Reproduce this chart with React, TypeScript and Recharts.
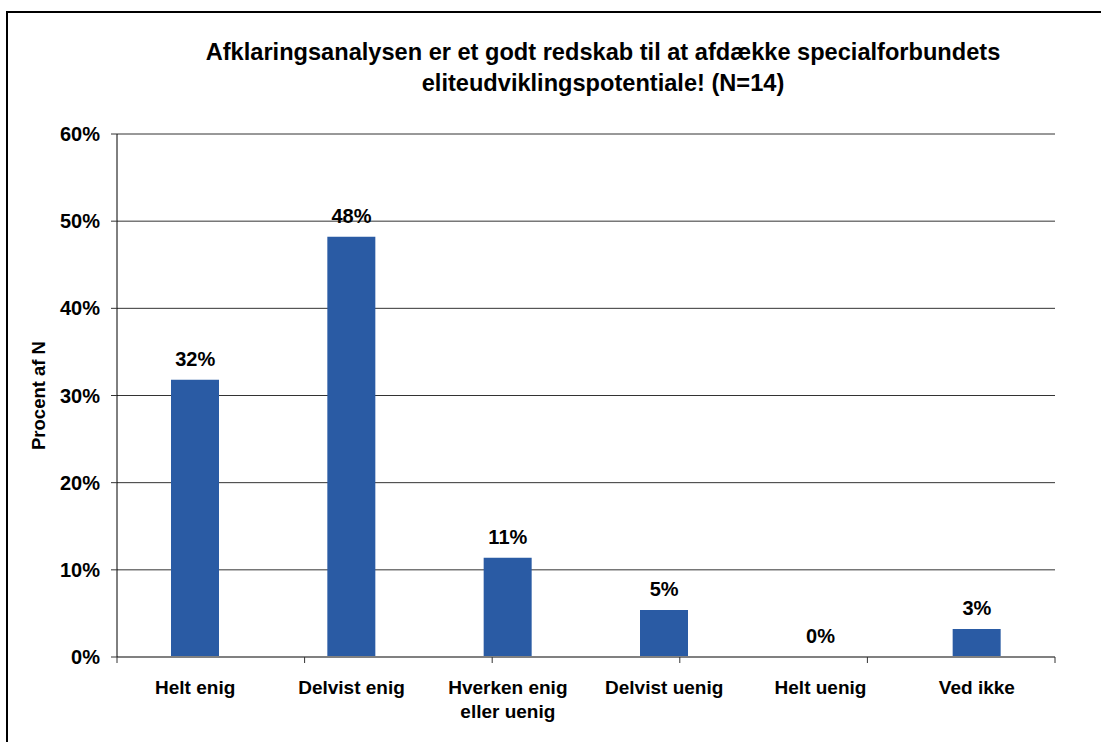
import React from 'react';
import { ComposedChart, Bar, Line, XAxis, YAxis, CartesianGrid, LabelList } from 'recharts';

const categories = ['Helt enig', 'Delvist enig', 'Hverken enig\neller uenig', 'Delvist uenig', 'Helt uenig', 'Ved ikke'];
const shares = [31.8, 48.2, 11.4, 5.4, 0, 3.2];
const yTicks = [0, 10, 20, 30, 40, 50, 60];
const boundaryTicks = [0, 1, 2, 3, 4, 5, 6];

const data = categories.map((category, i) => ({ category, share: shares[i] }));

const FONT = 'Arial, "Liberation Sans", sans-serif';

const CategoryTick = (props: any) => {
  const { x, y, payload } = props;
  const lines = String(payload.value).split('\n');
  return (
    <g transform={`translate(${x},${y})`}>
      <text textAnchor="middle" fontFamily={FONT} fontWeight="bold" fontSize={19} fill="#000">
        {lines.map((line, i) => (
          <tspan key={i} x={0} dy={i === 0 ? 23 : 24}>
            {line}
          </tspan>
        ))}
      </text>
    </g>
  );
};

const App = () => {
  return (
    <div style={{ position: 'absolute', left: 0, top: 0, width: 1101, height: 742, background: '#fff', overflow: 'hidden' }}>
      <div
        style={{
          position: 'absolute',
          left: 6,
          top: 11,
          width: 1200,
          height: 800,
          borderLeft: '2px solid #000',
          borderTop: '2px solid #000',
        }}
      />
      <div
        style={{
          position: 'absolute',
          left: 0,
          top: 37,
          width: 1206,
          textAlign: 'center',
          fontFamily: FONT,
          fontWeight: 'bold',
          fontSize: 23.6,
          lineHeight: '31px',
          color: '#000',
        }}
      >
        Afklaringsanalysen er et godt redskab til at afdække specialforbundets
        <br />
        eliteudviklingspotentiale! (N=14)
      </div>
      <div style={{ position: 'absolute', left: 0, top: 0 }}>
        <ComposedChart width={1101} height={742} data={data} margin={{ top: 134, right: 46, left: 17, bottom: 39 }}>
          <CartesianGrid vertical={false} stroke="#333" strokeWidth={1} />
          <XAxis
            xAxisId="bounds"
            type="number"
            domain={[0, 6]}
            ticks={boundaryTicks}
            tick={() => <g />}
            tickSize={6}
            height={6}
            axisLine={{ stroke: '#808080', strokeWidth: 2 }}
            tickLine={{ stroke: '#333' }}
            allowDataOverflow
          />
          <XAxis
            xAxisId="cat"
            dataKey="category"
            interval={0}
            axisLine={false}
            tickLine={false}
            height={40}
            tick={<CategoryTick />}
          />
          <YAxis
            domain={[0, 60]}
            ticks={yTicks}
            tickFormatter={(v: number) => `${v}%`}
            width={100}
            interval={0}
            tickSize={6}
            tickMargin={11}
            axisLine={{ stroke: '#000' }}
            tickLine={{ stroke: '#333' }}
            tick={{ fontFamily: FONT, fontWeight: 'bold', fontSize: 20, fill: '#000' }}
            label={{
              value: 'Procent af N',
              angle: -90,
              position: 'insideLeft',
              offset: 21,
              style: { fontFamily: FONT, fontWeight: 'bold', fontSize: 18.5, fill: '#000', textAnchor: 'middle' },
            }}
          />
          <Bar dataKey="share" xAxisId="cat" fill="#2A5BA4" barSize={48} isAnimationActive={false} />
          <Line
            dataKey="share"
            xAxisId="cat"
            stroke="none"
            dot={false}
            activeDot={false}
            isAnimationActive={false}
          >
            <LabelList
              dataKey="share"
              position="top"
              offset={14}
              formatter={(v: number) => `${Math.round(v)}%`}
              style={{ fontFamily: FONT, fontWeight: 'bold', fontSize: 20, fill: '#000' }}
            />
          </Line>
        </ComposedChart>
      </div>
    </div>
  );
};

export default App;
